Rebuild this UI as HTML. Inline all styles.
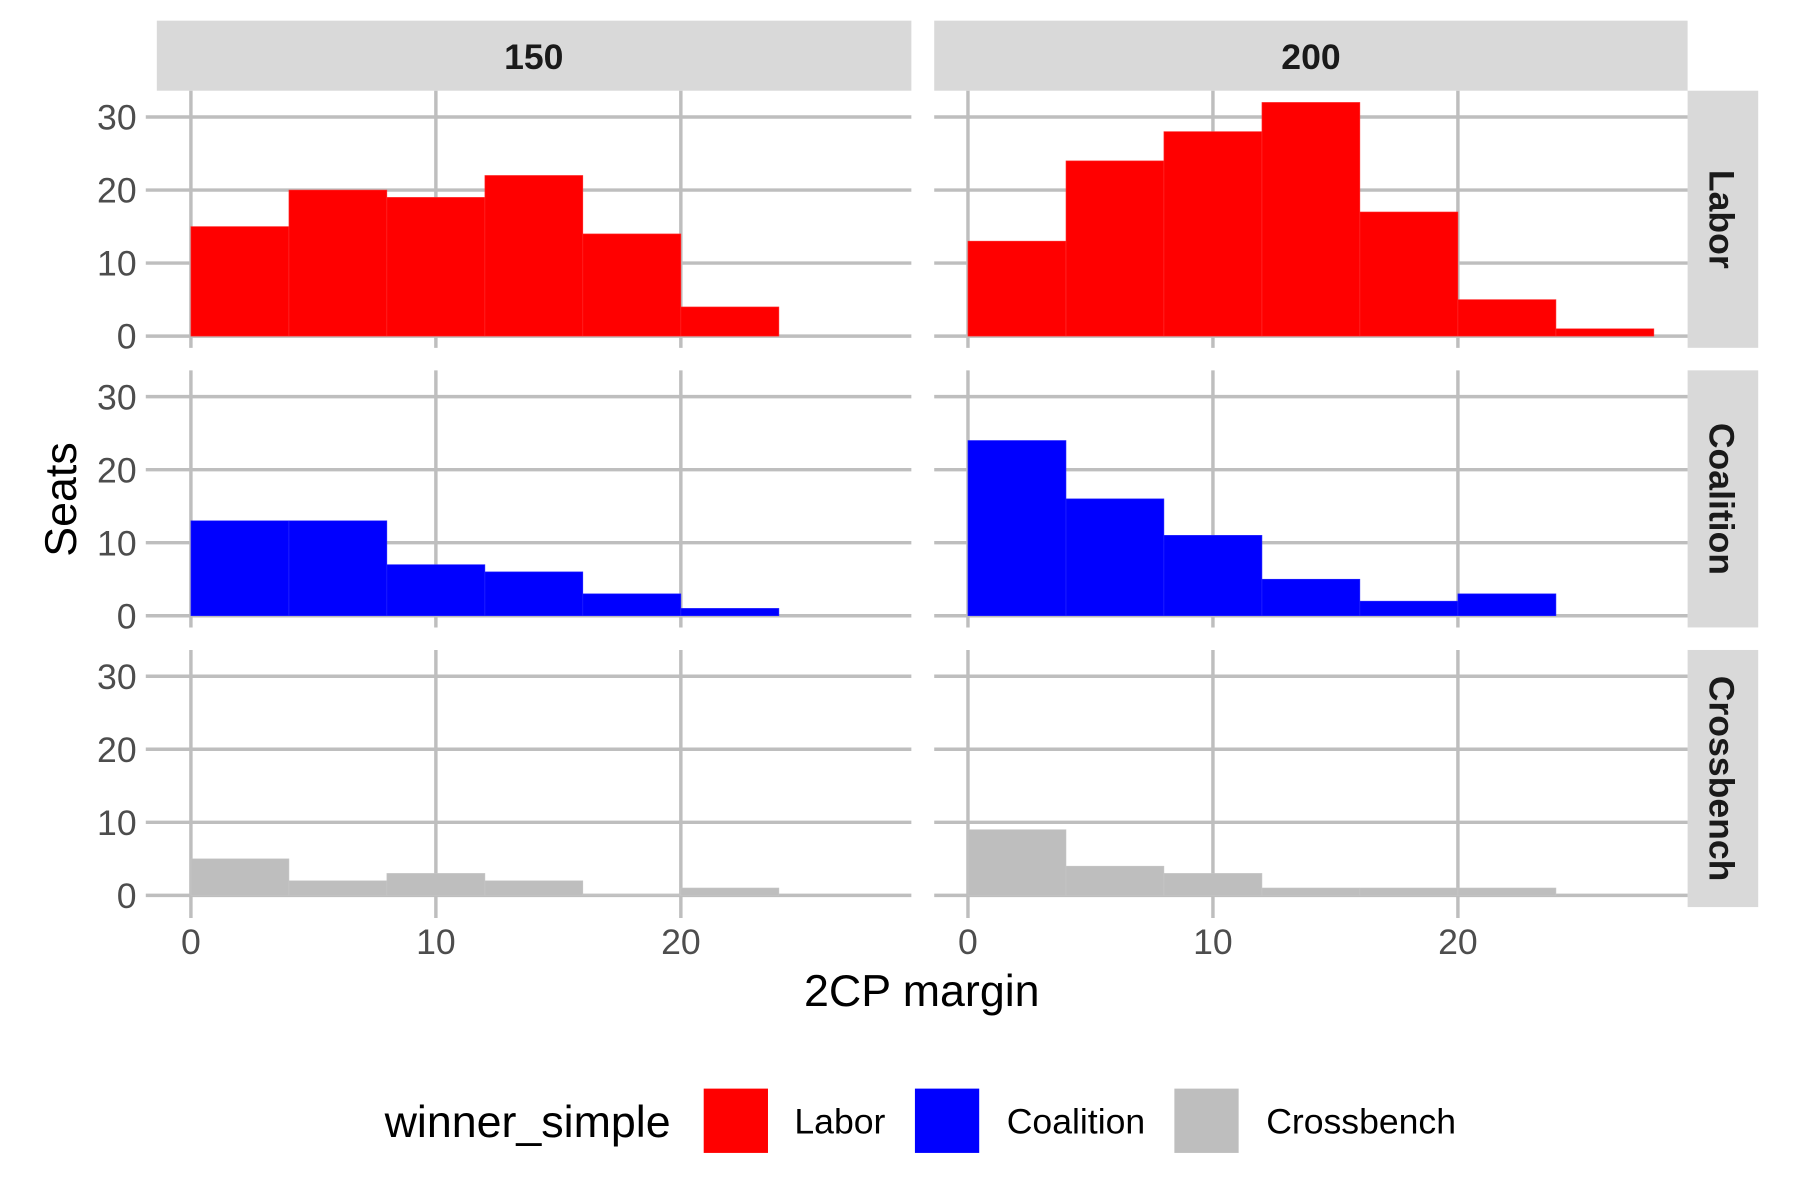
<!DOCTYPE html>
<html><head><meta charset="utf-8"><style>html,body{margin:0;padding:0;background:#fff}svg{display:block}</style></head>
<body>
<svg width="1800" height="1200" viewBox="0 0 1568 1045" preserveAspectRatio="none" xmlns="http://www.w3.org/2000/svg" font-family="Liberation Sans, sans-serif">
<rect width="1568" height="1045" fill="#fff"/>
<!-- strips -->
<rect x="136.6" y="18" width="657.3" height="61" fill="#d9d9d9"/>
<rect x="813.8" y="18" width="656.3" height="61" fill="#d9d9d9"/>
<text x="465" y="60" font-size="31" font-weight="bold" fill="#1a1a1a" text-anchor="middle">150</text>
<text x="1142" y="60" font-size="31" font-weight="bold" fill="#1a1a1a" text-anchor="middle">200</text>
<rect x="1470.1" y="79" width="61.5" height="223.9" fill="#d9d9d9"/>
<rect x="1470.1" y="322.5" width="61.5" height="223.9" fill="#d9d9d9"/>
<rect x="1470.1" y="566" width="61.5" height="223.9" fill="#d9d9d9"/>
<g font-size="31" font-weight="bold" fill="#1a1a1a" text-anchor="middle">
<text transform="translate(1489,191) rotate(90)">Labor</text>
<text transform="translate(1489,434.5) rotate(90)">Coalition</text>
<text transform="translate(1489,678) rotate(90)">Crossbench</text>
</g>
<!-- grid -->
<g stroke="#bebebe" stroke-width="3">
<line x1="127" y1="292.7" x2="793.9" y2="292.7"/><line x1="127" y1="229.1" x2="793.9" y2="229.1"/><line x1="127" y1="165.5" x2="793.9" y2="165.5"/><line x1="127" y1="101.9" x2="793.9" y2="101.9"/>
<line x1="127" y1="536.2" x2="793.9" y2="536.2"/><line x1="127" y1="472.6" x2="793.9" y2="472.6"/><line x1="127" y1="409" x2="793.9" y2="409"/><line x1="127" y1="345.4" x2="793.9" y2="345.4"/>
<line x1="127" y1="779.7" x2="793.9" y2="779.7"/><line x1="127" y1="716.1" x2="793.9" y2="716.1"/><line x1="127" y1="652.5" x2="793.9" y2="652.5"/><line x1="127" y1="588.9" x2="793.9" y2="588.9"/>
<line x1="813.8" y1="292.7" x2="1470.1" y2="292.7"/><line x1="813.8" y1="229.1" x2="1470.1" y2="229.1"/><line x1="813.8" y1="165.5" x2="1470.1" y2="165.5"/><line x1="813.8" y1="101.9" x2="1470.1" y2="101.9"/>
<line x1="813.8" y1="536.2" x2="1470.1" y2="536.2"/><line x1="813.8" y1="472.6" x2="1470.1" y2="472.6"/><line x1="813.8" y1="409" x2="1470.1" y2="409"/><line x1="813.8" y1="345.4" x2="1470.1" y2="345.4"/>
<line x1="813.8" y1="779.7" x2="1470.1" y2="779.7"/><line x1="813.8" y1="716.1" x2="1470.1" y2="716.1"/><line x1="813.8" y1="652.5" x2="1470.1" y2="652.5"/><line x1="813.8" y1="588.9" x2="1470.1" y2="588.9"/>
<line x1="166.3" y1="79" x2="166.3" y2="302.9"/><line x1="379.7" y1="79" x2="379.7" y2="302.9"/><line x1="593.1" y1="79" x2="593.1" y2="302.9"/>
<line x1="166.3" y1="322.5" x2="166.3" y2="546.4"/><line x1="379.7" y1="322.5" x2="379.7" y2="546.4"/><line x1="593.1" y1="322.5" x2="593.1" y2="546.4"/>
<line x1="166.3" y1="566" x2="166.3" y2="799.4"/><line x1="379.7" y1="566" x2="379.7" y2="799.4"/><line x1="593.1" y1="566" x2="593.1" y2="799.4"/>
<line x1="843.2" y1="79" x2="843.2" y2="302.9"/><line x1="1056.6" y1="79" x2="1056.6" y2="302.9"/><line x1="1270" y1="79" x2="1270" y2="302.9"/>
<line x1="843.2" y1="322.5" x2="843.2" y2="546.4"/><line x1="1056.6" y1="322.5" x2="1056.6" y2="546.4"/><line x1="1270" y1="322.5" x2="1270" y2="546.4"/>
<line x1="843.2" y1="566" x2="843.2" y2="799.4"/><line x1="1056.6" y1="566" x2="1056.6" y2="799.4"/><line x1="1270" y1="566" x2="1270" y2="799.4"/>
</g>
<!-- bars -->
<g fill="#ff0000" stroke="#ff3030" stroke-width="0.5">
<rect x="166.3" y="197.3" width="85.4" height="95.4"/><rect x="251.7" y="165.5" width="85.3" height="127.2"/><rect x="337" y="171.9" width="85.4" height="120.8"/><rect x="422.4" y="152.8" width="85.3" height="139.9"/><rect x="507.7" y="203.7" width="85.4" height="89"/><rect x="593.1" y="267.3" width="85.4" height="25.4"/>
<rect x="843.2" y="210" width="85.4" height="82.7"/><rect x="928.6" y="140.1" width="85.3" height="152.6"/><rect x="1013.9" y="114.6" width="85.4" height="178.1"/><rect x="1099.3" y="89.2" width="85.3" height="203.5"/><rect x="1184.6" y="184.6" width="85.4" height="108.1"/><rect x="1270" y="260.9" width="85.4" height="31.8"/><rect x="1355.4" y="286.3" width="85.3" height="6.4"/>
</g>
<g fill="#0000ff" stroke="#2a2aff" stroke-width="0.5">
<rect x="166.3" y="453.5" width="85.4" height="82.7"/><rect x="251.7" y="453.5" width="85.3" height="82.7"/><rect x="337" y="491.7" width="85.4" height="44.5"/><rect x="422.4" y="498" width="85.3" height="38.2"/><rect x="507.7" y="517.1" width="85.4" height="19.1"/><rect x="593.1" y="529.8" width="85.4" height="6.4"/>
<rect x="843.2" y="383.6" width="85.4" height="152.6"/><rect x="928.6" y="434.4" width="85.3" height="101.8"/><rect x="1013.9" y="466.2" width="85.4" height="70"/><rect x="1099.3" y="504.4" width="85.3" height="31.8"/><rect x="1184.6" y="523.5" width="85.4" height="12.7"/><rect x="1270" y="517.1" width="85.4" height="19.1"/>
</g>
<g fill="#bebebe" stroke="#c6c6c6" stroke-width="0.5">
<rect x="166.3" y="747.9" width="85.4" height="31.8"/><rect x="251.7" y="767" width="85.3" height="12.7"/><rect x="337" y="760.6" width="85.4" height="19.1"/><rect x="422.4" y="767" width="85.3" height="12.7"/><rect x="507.7" y="778.7" width="85.4" height="1"/><rect x="593.1" y="773.3" width="85.4" height="6.4"/>
<rect x="843.2" y="722.5" width="85.4" height="57.2"/><rect x="928.6" y="754.3" width="85.3" height="25.4"/><rect x="1013.9" y="760.6" width="85.4" height="19.1"/><rect x="1099.3" y="773.3" width="85.3" height="6.4"/><rect x="1184.6" y="773.3" width="85.4" height="6.4"/><rect x="1270" y="773.3" width="85.4" height="6.4"/>
</g>
<!-- axis labels -->
<g font-size="31" fill="#4d4d4d" text-anchor="end">
<text x="119" y="303.7">0</text><text x="119" y="240.1">10</text><text x="119" y="176.5">20</text><text x="119" y="112.9">30</text>
<text x="119" y="547.2">0</text><text x="119" y="483.6">10</text><text x="119" y="420">20</text><text x="119" y="356.4">30</text>
<text x="119" y="790.7">0</text><text x="119" y="727.1">10</text><text x="119" y="663.5">20</text><text x="119" y="599.9">30</text>
</g>
<g font-size="31" fill="#4d4d4d" text-anchor="middle">
<text x="166.3" y="831">0</text><text x="379.7" y="831">10</text><text x="593.1" y="831">20</text>
<text x="843.2" y="831">0</text><text x="1056.6" y="831">10</text><text x="1270" y="831">20</text>
</g>
<text x="803" y="876" font-size="39" fill="#000" text-anchor="middle">2CP margin</text>
<text transform="translate(66,435) rotate(-90)" font-size="39" fill="#000" text-anchor="middle">Seats</text>
<!-- legend -->
<text x="335" y="990" font-size="39" fill="#000">winner_simple</text>
<rect x="613" y="948" width="56" height="56" fill="#ff0000"/>
<text x="692" y="987" font-size="31" fill="#000">Labor</text>
<rect x="797" y="948" width="56" height="56" fill="#0000ff"/>
<text x="877" y="987" font-size="31" fill="#000">Coalition</text>
<rect x="1023" y="948" width="56" height="56" fill="#bebebe"/>
<text x="1103" y="987" font-size="31" fill="#000">Crossbench</text>
</svg>
</body></html>
